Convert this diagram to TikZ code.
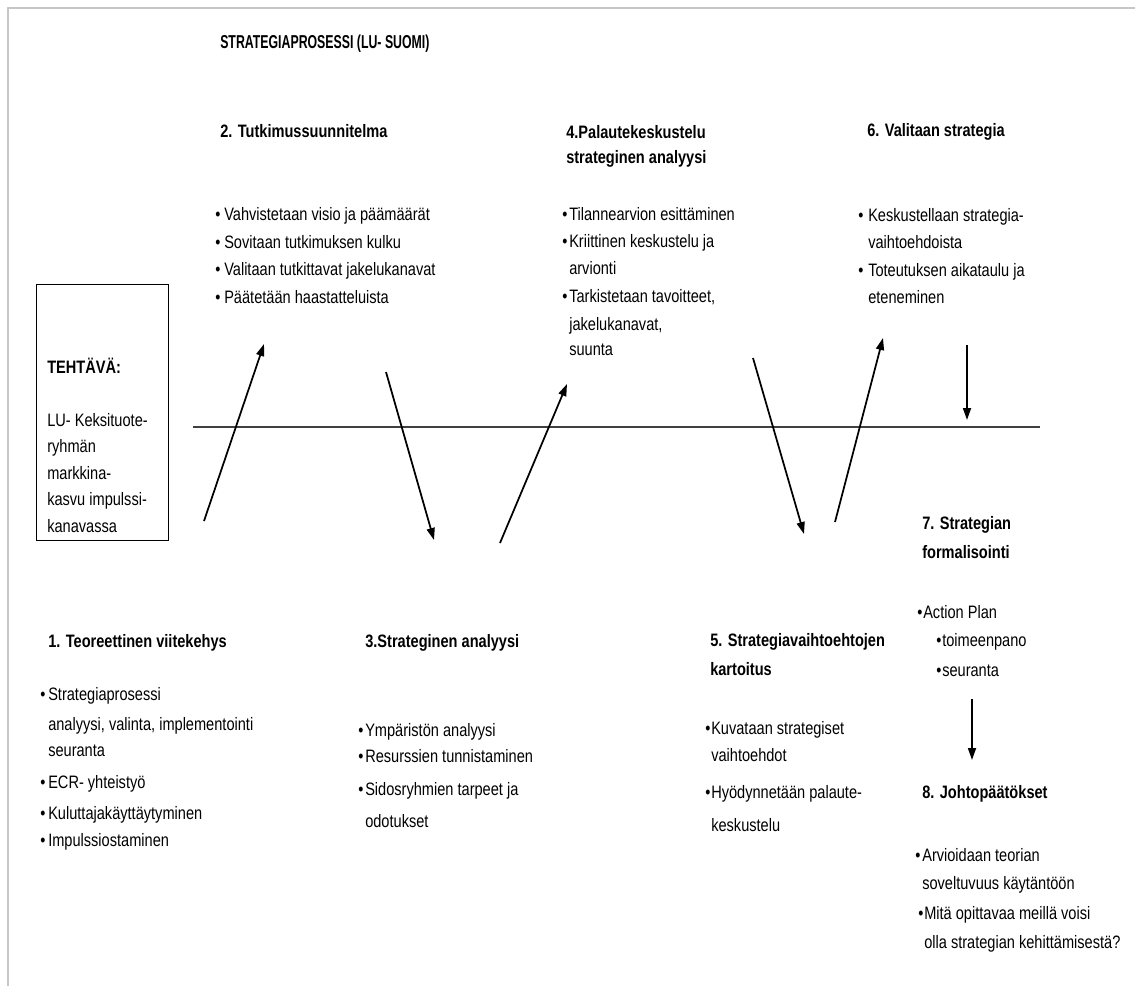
\documentclass[tikz,border=0pt]{standalone}
\usepackage{fontspec}
\setmainfont[FakeStretch=0.81]{Liberation Sans}
\newfontfamily\titlefont[FakeStretch=0.66]{Liberation Sans}
\usetikzlibrary{arrows.meta}

\newcommand{\bul}[1][6pt]{\makebox[#1][l]{\textbullet}}

\begin{document}
\begin{tikzpicture}[x=0.75pt, y=-0.75pt,
    txt/.style={anchor=base west, inner sep=0pt, font=\fontsize{13.5}{16}\selectfont},
    head/.style={txt, font=\fontsize{13.5}{16}\selectfont\bfseries},
    arr/.style={-{Triangle[length=9pt,width=6pt]}, line width=1.3pt},
    frame/.style={gray!45, line width=1.5pt}]
    \useasboundingbox (0,0) rectangle (1135,986);

    % Frame and time line
    \draw[frame] (7,8) -- (1135,8);
    \draw[frame] (8,8) -- (8,986);
    \coordinate (ls) at (193,427);
    \coordinate (le) at (1040,427);
    \draw[line width=1.3pt, black!75] (ls) -- (le);

    % Title
    \node (title) at (220,48) [txt, font=\fontsize{14}{16}\selectfont\titlefont\bfseries] {STRATEGIAPROSESSI (LU- SUOMI)};

    % Task box
    \node (box) at (102,412) [draw, inner sep=0pt, minimum width=99pt, minimum height=192pt] {};
    \node (task) at (47,373) [head] {TEHTÄVÄ:};
    \node (taska) at (47,426) [txt] {LU- Keksituote-};
    \node (taskb) at (47,452) [txt] {ryhmän};
    \node (taskc) at (47,479) [txt] {markkina-};
    \node (taskd) at (47,505) [txt] {kasvu impulssi-};
    \node (taske) at (47,532) [txt] {kanavassa};

    % Step 2
    \node (t2) at (220,137) [head] {2. Tutkimussuunnitelma};
    \node (p2a) at (215,220) [txt] {\bul[6.75pt]Vahvistetaan visio ja päämäärät};
    \node (p2b) at (215,248) [txt] {\bul[6.75pt]Sovitaan tutkimuksen kulku};
    \node (p2c) at (215,275) [txt] {\bul[6.75pt]Valitaan tutkittavat jakelukanavat};
    \node (p2d) at (215,303) [txt] {\bul[6.75pt]Päätetään haastatteluista};

    % Step 4
    \node (t4) at (566,138) [head] {4.Palautekeskustelu};
    \node (t4b) at (566,163) [head] {strateginen analyysi};
    \node (p4a) at (562,220) [txt] {\bul[5.25pt]Tilannearvion esittäminen};
    \node (p4b) at (562,247) [txt] {\bul[5.25pt]Kriittinen keskustelu ja};
    \node (p4c) at (569,274) [txt] {arvionti};
    \node (p4d) at (562,302) [txt] {\bul[5.25pt]Tarkistetaan tavoitteet,};
    \node (p4e) at (569,330) [txt] {jakelukanavat,};
    \node (p4f) at (569,355) [txt] {suunta};

    % Step 6
    \node (t6) at (867,136) [head] {6. Valitaan strategia};
    \node (p6a) at (858,221) [txt] {\bul[7.5pt]Keskustellaan strategia-};
    \node (p6b) at (868,248) [txt] {vaihtoehdoista};
    \node (p6c) at (858,276) [txt] {\bul[7.5pt]Toteutuksen aikataulu ja};
    \node (p6d) at (868,303) [txt] {eteneminen};

    % Step 1
    \node (t1) at (48,647) [head] {1. Teoreettinen viitekehys};
    \node (p1a) at (40,700) [txt] {\bul[6pt]Strategiaprosessi};
    \node (p1b) at (48,730) [txt] {analyysi, valinta, implementointi};
    \node (p1c) at (48,756) [txt] {seuranta};
    \node (p1d) at (40,788) [txt] {\bul[6pt]ECR- yhteistyö};
    \node (p1e) at (40,819) [txt] {\bul[6pt]Kuluttajakäyttäytyminen};
    \node (p1f) at (40,846) [txt] {\bul[6pt]Impulssiostaminen};

    % Step 3
    \node (t3) at (365,647) [head] {3.Strateginen analyysi};
    \node (p3a) at (358,736) [txt] {\bul[5.25pt]Ympäristön analyysi};
    \node (p3b) at (358,762) [txt] {\bul[5.25pt]Resurssien tunnistaminen};
    \node (p3c) at (358,795) [txt] {\bul[5.25pt]Sidosryhmien tarpeet ja};
    \node (p3d) at (365,827) [txt] {odotukset};

    % Step 5
    \node (t5) at (710,646) [head] {5. Strategiavaihtoehtojen};
    \node (t5b) at (710,675) [head] {kartoitus};
    \node (p5a) at (705,734) [txt] {\bul[4.5pt]Kuvataan strategiset};
    \node (p5b) at (711,761) [txt] {vaihtoehdot};
    \node (p5c) at (705,798) [txt] {\bul[4.5pt]Hyödynnetään palaute-};
    \node (p5d) at (711,831) [txt] {keskustelu};

    % Step 7
    \node (t7) at (922,529) [head] {7. Strategian};
    \node (t7b) at (922,558) [head] {formalisointi};
    \node (p7a) at (917,618) [txt] {\bul[4.5pt]Action Plan};
    \node (p7b) at (936,646) [txt] {\bul[4.5pt]toimeenpano};
    \node (p7c) at (936,676) [txt] {\bul[4.5pt]seuranta};

    % Step 8
    \node (t8) at (922,798) [head] {8. Johtopäätökset};
    \node (p8a) at (915,861) [txt] {\bul[5.25pt]Arvioidaan teorian};
    \node (p8b) at (922,889) [txt] {soveltuvuus käytäntöön};
    \node (p8c) at (918,919) [txt] {\bul[4.5pt]Mitä opittavaa meillä voisi};
    \node (p8d) at (924,948) [txt] {olla strategian kehittämisestä?};

    % Arrow ends
    \coordinate (a1s) at (204,521);
    \coordinate (a1e) at (264,344);
    \coordinate (a2s) at (386,372);
    \coordinate (a2e) at (434,540);
    \coordinate (a3s) at (500,543);
    \coordinate (a3e) at (567,384);
    \coordinate (a4s) at (753,358);
    \coordinate (a4e) at (804,534);
    \coordinate (a5s) at (835,522);
    \coordinate (a5e) at (883,338);
    \coordinate (a6s) at (967,345);
    \coordinate (a6e) at (967,420);
    \coordinate (a7s) at (972,699);
    \coordinate (a7e) at (972,760);

    % Draw arrows
    \draw[arr] (a1s) -- (a1e);
    \draw[arr] (a2s) -- (a2e);
    \draw[arr] (a3s) -- (a3e);
    \draw[arr] (a4s) -- (a4e);
    \draw[arr] (a5s) -- (a5e);
    \draw[arr] (a6s) -- (a6e);
    \draw[arr] (a7s) -- (a7e);
\end{tikzpicture}
\end{document}
